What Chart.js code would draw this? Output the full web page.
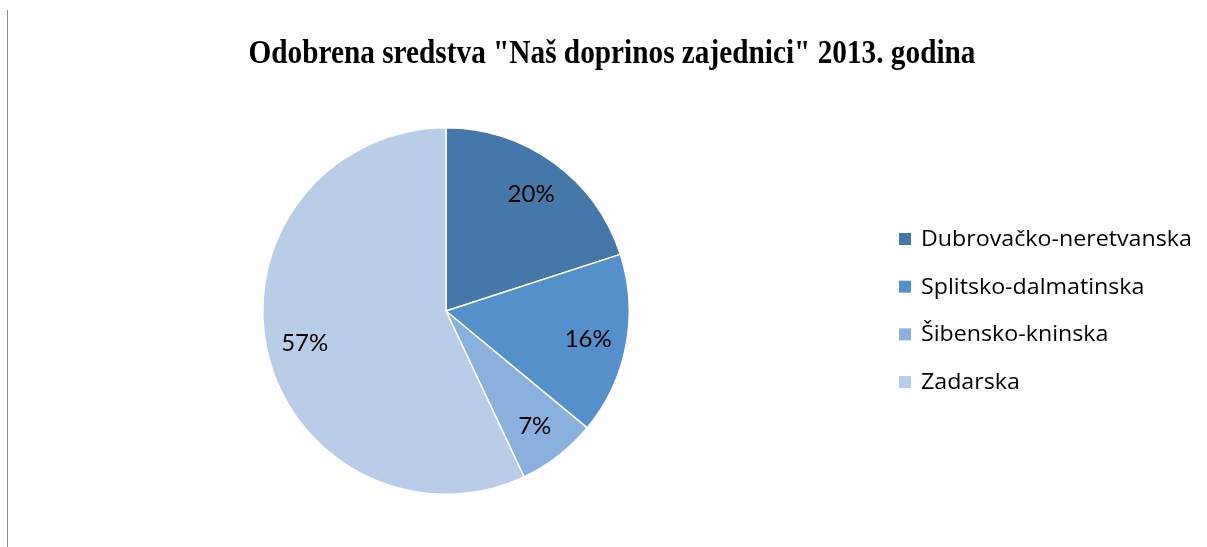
<!DOCTYPE html>
<html>
<head>
<meta charset="utf-8">
<script src="https://cdn.jsdelivr.net/npm/chart.js@4/dist/chart.umd.min.js"></script>
<style>
html,body{margin:0;padding:0;background:#fff;}
#wrap{position:relative;width:1207px;height:547px;}
#edge{position:absolute;left:7px;top:10px;width:1px;height:537px;background:#8a8a8a;}
canvas{position:absolute;left:0;top:0;}
</style>
</head>
<body>
<div id="wrap">
<canvas id="c" width="1207" height="547"></canvas>
<div id="edge"></div>
</div>
<script>
const titleText = 'Odobrena sredstva "Naš doprinos zajednici" 2013. godina';
const categories = ['Dubrovačko-neretvanska', 'Splitsko-dalmatinska', 'Šibensko-kninska', 'Zadarska'];
const values = [20, 16, 7, 57];
const colors = ['#4677A9', '#5590CB', '#8AB0DE', '#B9CDE8'];

function scaledText(ctx, text, x, y, sx, align) {
  ctx.save();
  ctx.translate(x, y);
  ctx.scale(sx, 1);
  ctx.textAlign = align;
  ctx.fillText(text, 0, 0);
  ctx.restore();
}

const overlay = {
  id: 'overlay',
  afterDraw(chart) {
    const ctx = chart.ctx;
    ctx.save();
    ctx.fillStyle = '#000';
    ctx.textBaseline = 'alphabetic';
    // title (condensed, as in the reference)
    ctx.font = 'bold 34px "Liberation Serif", "Times New Roman", serif';
    const tw = ctx.measureText(titleText).width;
    scaledText(ctx, titleText, 612, 63, 727 / tw, 'center');
    // data labels
    const meta = chart.getDatasetMeta(0);
    const total = values.reduce((a, b) => a + b, 0);
    ctx.font = '24px Lato, "Open Sans", sans-serif';
    ctx.textAlign = 'center';
    meta.data.forEach((arc, i) => {
      const p = arc.getProps(['startAngle', 'endAngle', 'outerRadius', 'x', 'y'], true);
      const mid = (p.startAngle + p.endAngle) / 2;
      const r = p.outerRadius * 0.79;
      const x = p.x + Math.cos(mid) * r;
      const y = p.y + Math.sin(mid) * r;
      ctx.fillText(Math.round(values[i] / total * 100) + '%', x, y + 8.5);
    });
    // legend
    ctx.font = '21px "Open Sans", Lato, sans-serif';
    categories.forEach((c, i) => {
      const base = 246 + i * 47.7;
      ctx.fillStyle = colors[i];
      ctx.fillRect(899, base - 13, 12, 12);
      ctx.fillStyle = '#000';
      scaledText(ctx, c, 921, base, 1.105, 'left');
    });
    ctx.restore();
  }
};

new Chart(document.getElementById('c'), {
  type: 'pie',
  data: {
    labels: categories,
    datasets: [{
      data: values,
      backgroundColor: colors,
      borderColor: '#ffffff',
      borderWidth: 1.5
    }]
  },
  options: {
    responsive: false,
    animation: false,
    layout: { padding: { top: 127, bottom: 52, left: 262, right: 577 } },
    plugins: {
      legend: { display: false },
      title: { display: false },
      tooltip: { enabled: false }
    }
  },
  plugins: [overlay]
});
</script>
</body>
</html>
